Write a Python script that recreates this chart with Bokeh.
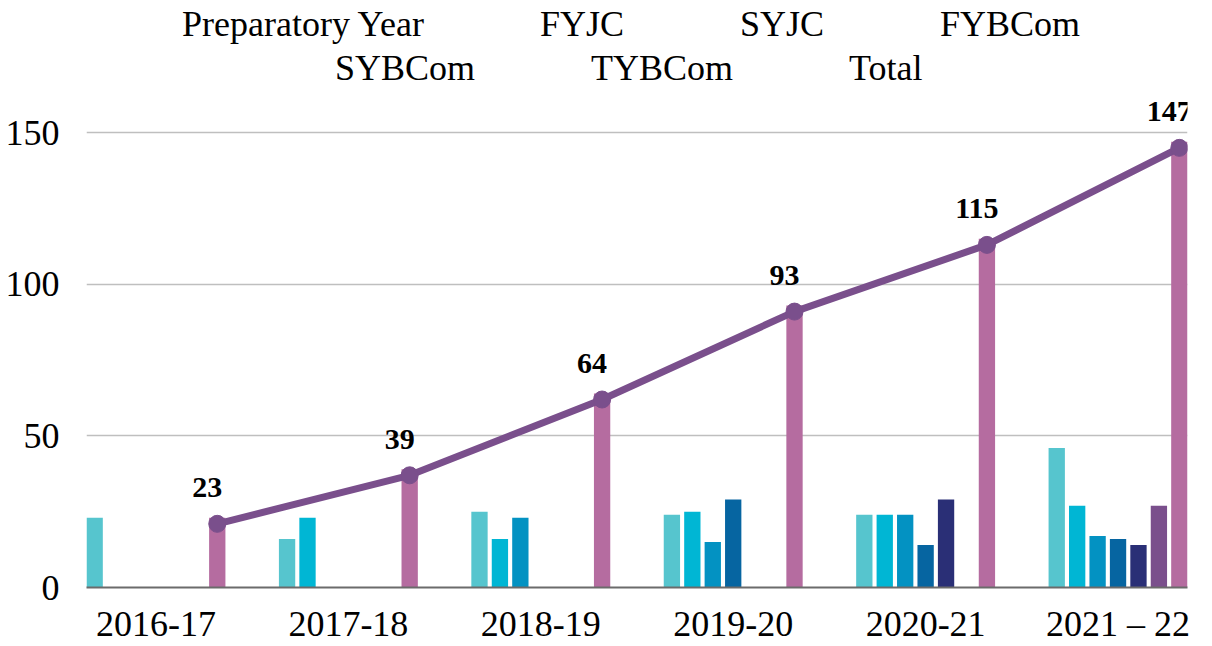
import numpy as np
from bokeh.plotting import figure
from bokeh.models import ColumnDataSource, FixedTicker, Range1d, Legend, LegendItem
from bokeh.transform import dodge
from bokeh.core.properties import value
from bokeh.embed import file_html
from bokeh.resources import INLINE

nan = np.nan

# ---- data ----
years = ["2016-17", "2017-18", "2018-19", "2019-20", "2020-21", "2021 – 22"]
series = ["Preparatory Year", "FYJC", "SYJC", "FYBCom", "SYBCom", "TYBCom", "Total"]
prep = [23, 16, 25, 24, 24, 46]
fyjc = [nan, 23, 16, 25, 24, 27]
syjc = [nan, nan, 23, 15, 24, 17]
fybcom = [nan, nan, nan, 29, 14, 16]
sybcom = [nan, nan, nan, nan, 29, 14]
tybcom = [nan, nan, nan, nan, nan, 27]
total = [23, 39, 64, 93, 115, 147]
y_ticks = [0, 50, 100, 150]

colors = ["#56C5CE", "#00B6D4", "#0392C2", "#0665A1", "#2A2F76", "#7A4F8C", "#B56CA0"]
line_color = "#7A4F8C"

src = ColumnDataSource(dict(
    x=np.arange(len(years), dtype=float),
    s0=np.array(prep, dtype=float),
    s1=np.array(fyjc, dtype=float),
    s2=np.array(syjc, dtype=float),
    s3=np.array(fybcom, dtype=float),
    s4=np.array(sybcom, dtype=float),
    s5=np.array(tybcom, dtype=float),
    s6=np.array(total, dtype=float),
    lbl=[str(v) for v in total],
))

stride = 0.1062
bar_w = 0.0848
half = 3 * stride + bar_w / 2

y_end = 193.6

p = figure(width=1212, height=646, output_backend="svg", toolbar_location=None,
           x_range=Range1d(-half, len(years) - 1 + half),
           y_range=Range1d(0, y_end),
           min_border_left=86, min_border_right=25, min_border_top=0, min_border_bottom=0)
p.extra_y_ranges = {"tot": Range1d(start=2, end=y_end + 2)}
p.outline_line_color = None
p.background_fill_color = "white"

bars = []
for j in range(len(series)):
    r = p.vbar(x=dodge("x", (j - 3) * stride, range=p.x_range), top="s%d" % j, width=bar_w,
               source=src, fill_color=colors[j], line_color=None)
    bars.append(r)

xoff = dodge("x", 3 * stride, range=p.x_range)
p.line(x=xoff, y="s6", source=src, y_range_name="tot", line_color=line_color, line_width=7)
p.scatter(x=xoff, y="s6", source=src, y_range_name="tot", size=17, marker="circle",
          fill_color=line_color, line_color=line_color)
p.text(x=xoff, y="s6", text="lbl", source=src, y_range_name="tot",
       text_font=value("Liberation Serif"), text_font_style="bold", text_font_size="30px",
       text_color="black", text_align="center", text_baseline="middle",
       x_offset=-10, y_offset=-36)

# axes
p.xaxis.ticker = FixedTicker(ticks=list(range(len(years))))
p.xaxis.major_label_overrides = {i: y for i, y in enumerate(years)}
p.xaxis.major_label_text_font = "Liberation Serif"
p.xaxis.major_label_text_font_size = "36px"
p.xaxis.major_label_text_color = "black"
p.xaxis.major_label_text_baseline = "hanging"
p.xaxis.major_label_standoff = 10
p.xaxis.major_tick_line_color = None
p.xaxis.minor_tick_line_color = None
p.xaxis.axis_line_color = "#6B6B6B"
p.xaxis.axis_line_width = 2

p.yaxis.ticker = FixedTicker(ticks=y_ticks)
p.yaxis.major_label_text_font = "Liberation Serif"
p.yaxis.major_label_text_font_size = "36px"
p.yaxis.major_label_text_color = "black"
p.yaxis.major_label_standoff = 21
p.yaxis.major_tick_line_color = None
p.yaxis.minor_tick_line_color = None
p.yaxis.axis_line_color = None

p.xgrid.grid_line_color = None
p.ygrid.grid_line_color = "#BFBFBF"
p.ygrid.grid_line_width = 1.5

# legend: text-only entries in two centred rows, in the empty top of the frame
rows = [([0, 1, 2, 3], 96, 542), ([4, 5, 6], 249, 498)]
for idx, vx, vy in rows:
    lg = Legend(items=[LegendItem(label=series[i], renderers=[bars[i]]) for i in idx],
                orientation="horizontal", location=(vx, vy),
                glyph_width=0, glyph_height=20, label_standoff=0, spacing=116,
                padding=0, margin=0, border_line_color=None, background_fill_alpha=0,
                label_text_font="Liberation Serif", label_text_font_size="36px",
                label_text_color="black")
    p.add_layout(lg, "center")

open("out.html", "w").write(file_html(p, INLINE))
